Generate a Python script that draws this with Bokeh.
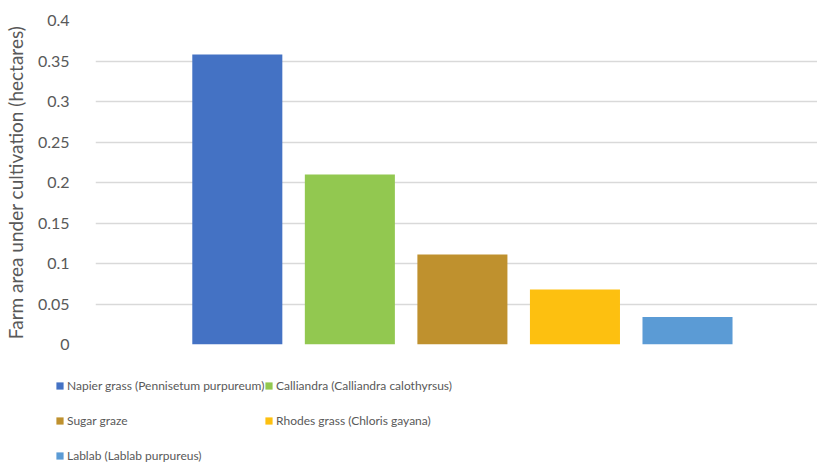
from bokeh.plotting import figure
from bokeh.layouts import column
from bokeh.models import (ColumnDataSource, Range1d, FixedTicker, Legend, LegendItem)
from bokeh.embed import file_html
from bokeh.resources import INLINE

# ---- data ----
species = [
    "Napier grass (Pennisetum purpureum)",
    "Calliandra (Calliandra calothyrsus)",
    "Sugar graze",
    "Rhodes grass (Chloris gayana)",
    "Lablab (Lablab purpureus)",
]
area_ha = [0.358, 0.210, 0.111, 0.068, 0.034]
colors = ["#4472C4", "#92C850", "#BF912E", "#FDC010", "#5B9BD5"]
y_ticks = [0, 0.05, 0.1, 0.15, 0.2, 0.25, 0.3, 0.35, 0.4]
y_tick_labels = ["0", "0.05", "0.1", "0.15", "0.2", "0.25", "0.3", "0.35", "0.4"]

FONT = "Lato"
TXT = "#595959"

src = ColumnDataSource(dict(x=list(range(len(species))), top=area_ha,
                            color=colors, name=species))

# ---- main chart ----
p = figure(width=817, height=354, output_backend="svg", toolbar_location=None,
           x_range=Range1d(-1.26, 5.155), y_range=Range1d(0, 0.4),
           min_border_left=84, min_border_right=0, min_border_top=20,
           min_border_bottom=10)
p.frame_align = False
p.outline_line_color = None
p.background_fill_color = "white"
p.border_fill_color = "white"

r = p.vbar(x="x", top="top", width=0.8, color="color", line_color=None, source=src)

p.xaxis.visible = False
p.xgrid.visible = False

p.yaxis.ticker = FixedTicker(ticks=y_ticks)
p.yaxis.major_label_overrides = {t: s for t, s in zip(y_ticks, y_tick_labels)}
p.yaxis.axis_line_color = None
p.yaxis.major_tick_line_color = None
p.yaxis.minor_tick_line_color = None
p.yaxis.major_label_standoff = 20
p.yaxis.major_label_text_font = FONT
p.yaxis.major_label_text_font_size = "16px"
p.yaxis.major_label_text_color = TXT
p.yaxis.axis_label = "Farm area under cultivation (hectares)"
p.yaxis.axis_label_text_font = FONT
p.yaxis.axis_label_text_font_size = "19px"
p.yaxis.axis_label_text_font_style = "normal"
p.yaxis.axis_label_text_color = TXT
p.yaxis.axis_label_standoff = 8

p.ygrid.grid_line_color = "#D9D9D9"
p.ygrid.grid_line_width = 1.5

# ---- legend strip (bars of the same source sit outside its visible range) ----
lg = figure(width=817, height=114, output_backend="svg", toolbar_location=None,
            x_axis_location=None, y_axis_location=None,
            x_range=Range1d(-1.26, 5.155), y_range=Range1d(5, 6),
            min_border_left=0, min_border_right=0, min_border_top=0,
            min_border_bottom=0)
lg.frame_align = False
lg.grid.visible = False
lg.outline_line_color = None
lr = lg.vbar(x="x", top="top", width=0.8, color="color", line_color=None, source=src)


def make_legend(indices, loc):
    return Legend(items=[LegendItem(label=species[i], renderers=[lr], index=i)
                         for i in indices],
                  location=loc, orientation="vertical",
                  glyph_width=9, glyph_height=9, label_standoff=3,
                  label_height=26, spacing=9, padding=0, margin=0,
                  border_line_color=None, background_fill_alpha=0,
                  label_text_font=FONT, label_text_font_size="12px",
                  label_text_color=TXT)


lg.add_layout(make_legend([0, 2, 4], (55, 0)))
lg.add_layout(make_legend([1, 3], (264, 35)))

layout = column(p, lg, spacing=0)
open("out.html", "w").write(file_html(layout, INLINE))
